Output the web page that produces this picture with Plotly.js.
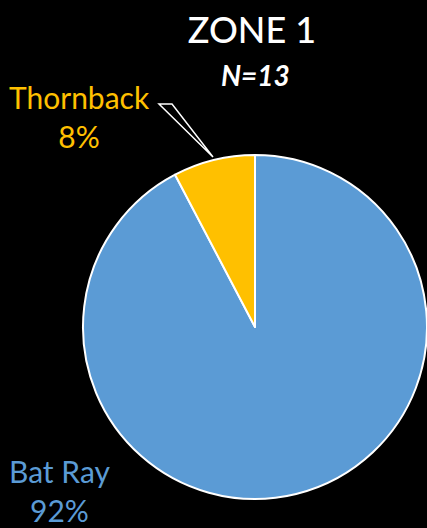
<!DOCTYPE html>
<html>
<head>
<meta charset="utf-8">
<script src="https://cdn.plot.ly/plotly-3.0.1.min.js"></script>
<style>html,body{margin:0;padding:0;background:#000;}#chart{width:427px;height:528px;}</style>
</head>
<body>
<div id="chart"></div>
<script>
const species = ["Bat Ray", "Thornback"];
const counts = [12, 1];
const colors = ["#5B9BD5", "#FFC000"];
const chartTitle = "ZONE 1";
const sampleSize = "N=13";

const W = 427, H = 528;
const total = counts.reduce((a, b) => a + b, 0);
const pct = counts.map(c => Math.round(100 * c / total) + "%");

const cx = 255, cy = 327, r = 172;
const px = x => x / W;
const py = y => 1 - y / H;

const labelPos = [
  {x: 60, y: 490},
  {x: 79, y: 116}
];

const annotations = species.map((s, i) => ({
  text: s + "<br>" + pct[i],
  x: px(labelPos[i].x), y: py(labelPos[i].y),
  xref: "paper", yref: "paper",
  xanchor: "center", yanchor: "middle",
  showarrow: false,
  font: {family: "Lato, 'Open Sans', sans-serif", size: 30, color: colors[i]},
  align: "center"
}));

annotations.push({
  text: "<b><i>" + sampleSize + "</i></b>",
  x: px(255), y: py(75),
  xref: "paper", yref: "paper",
  xanchor: "center", yanchor: "middle",
  showarrow: false,
  font: {family: "Lato, 'Open Sans', sans-serif", size: 28, color: "#FFFFFF"}
});

const data = [{
  type: "pie",
  labels: species,
  values: counts,
  sort: false,
  direction: "clockwise",
  rotation: 0,
  textinfo: "none",
  hoverinfo: "none",
  marker: {colors: colors, line: {color: "#FFFFFF", width: 2}},
  domain: {x: [px(cx - r), Math.min(1, px(cx + r))], y: [py(cy + r), py(cy - r)]},
  showlegend: false
}];

const layout = {
  width: W, height: H,
  paper_bgcolor: "#000000",
  plot_bgcolor: "#000000",
  margin: {l: 0, r: 0, t: 0, b: 0},
  showlegend: false,
  title: {
    text: chartTitle,
    x: px(252), xanchor: "center",
    y: py(30), yanchor: "middle",
    font: {family: "Lato, 'Open Sans', sans-serif", size: 36, color: "#FFFFFF", weight: 500}
  },
  annotations: annotations,
  shapes: [{
    type: "path",
    xref: "paper", yref: "paper",
    path: "M " + px(159) + " " + py(104) + " L " + px(172) + " " + py(104) + " L " + px(213) + " " + py(157) + " Z",
    line: {color: "#FFFFFF", width: 1.5},
    fillcolor: "#000000"
  }]
};

Plotly.newPlot("chart", data, layout, {displayModeBar: false, staticPlot: true});
</script>
</body>
</html>
